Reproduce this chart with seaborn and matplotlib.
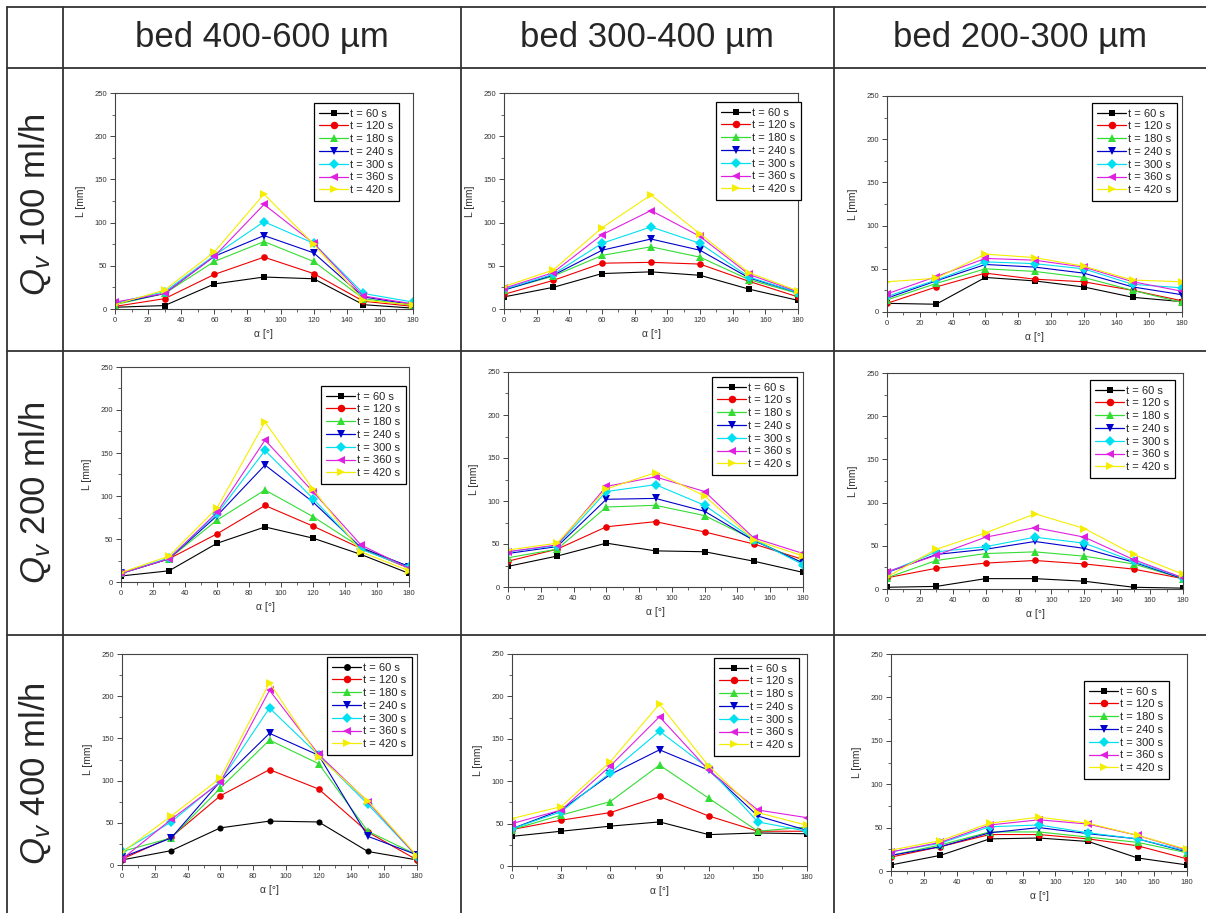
import numpy as np
import pandas as pd
import matplotlib
matplotlib.use('Agg')
import matplotlib.pyplot as plt
import seaborn as sns
from matplotlib.lines import Line2D
from matplotlib.ticker import MultipleLocator

sns.set_style('white')
plt.rcParams['font.family'] = ['Liberation Sans', 'DejaVu Sans']
plt.rcParams['mathtext.fontset'] = 'custom'
plt.rcParams['mathtext.rm'] = 'Liberation Sans'
plt.rcParams['mathtext.it'] = 'Liberation Sans:italic'

W, H = 1206, 913

angles = [0, 30, 60, 90, 120, 150, 180]
times = [60, 120, 180, 240, 300, 360, 420]
beds = ['bed 400-600 µm', 'bed 300-400 µm', 'bed 200-300 µm']
flows = ['100', '200', '400']

# L [mm], one row per time step (60 ... 420 s)
L_q100_b1 = [[2, 4, 29, 37, 35, 5, 1],
             [3, 12, 40, 60, 41, 9, 3],
             [5, 18, 55, 78, 55, 12, 4],
             [6, 18, 61, 85, 65, 14, 5],
             [7, 20, 62, 101, 76, 18, 8],
             [8, 18, 61, 121, 76, 15, 6],
             [5, 22, 66, 133, 75, 10, 5]]
L_q100_b2 = [[14, 25, 41, 43, 39, 23, 10],
             [17, 33, 53, 54, 52, 32, 14],
             [22, 38, 62, 72, 60, 34, 18],
             [22, 39, 68, 81, 68, 36, 19],
             [23, 40, 76, 95, 76, 37, 19],
             [24, 42, 86, 114, 84, 40, 20],
             [26, 45, 94, 132, 87, 42, 21]]
L_q100_b3 = [[10, 9, 40, 36, 29, 17, 12],
             [10, 29, 45, 38, 35, 25, 13],
             [14, 33, 50, 47, 40, 25, 11],
             [16, 36, 55, 52, 45, 29, 20],
             [18, 37, 58, 56, 50, 32, 28],
             [21, 41, 62, 60, 52, 35, 24],
             [35, 39, 67, 63, 53, 37, 35]]
L_q200_b1 = [[7, 13, 45, 64, 51, 32, 10],
             [10, 27, 56, 89, 65, 39, 16],
             [10, 27, 72, 107, 76, 40, 18],
             [10, 27, 77, 136, 93, 40, 18],
             [10, 28, 79, 153, 97, 38, 17],
             [10, 27, 81, 165, 105, 43, 16],
             [11, 30, 86, 186, 108, 35, 13]]
L_q200_b2 = [[24, 36, 51, 42, 41, 30, 17],
             [30, 44, 70, 76, 64, 50, 32],
             [34, 44, 93, 95, 83, 55, 28],
             [39, 47, 102, 103, 88, 54, 28],
             [41, 48, 111, 119, 95, 55, 26],
             [41, 49, 117, 128, 111, 57, 39],
             [43, 51, 114, 133, 106, 55, 36]]
L_q200_b3 = [[2, 3, 12, 12, 9, 2, 1],
             [13, 24, 30, 33, 29, 23, 12],
             [13, 33, 41, 43, 38, 29, 12],
             [19, 40, 46, 55, 47, 31, 12],
             [19, 43, 49, 60, 53, 32, 13],
             [20, 39, 60, 71, 60, 34, 13],
             [14, 46, 65, 87, 70, 40, 17]]
L_q400_b1 = [[6, 17, 44, 52, 51, 16, 6],
             [7, 33, 82, 113, 90, 39, 6],
             [16, 32, 91, 148, 120, 40, 12],
             [9, 32, 99, 156, 130, 34, 12],
             [16, 51, 99, 186, 130, 72, 10],
             [7, 54, 98, 207, 131, 75, 10],
             [15, 58, 103, 216, 128, 76, 11]]
L_q400_b2 = [[35, 41, 47, 52, 37, 39, 38],
             [43, 54, 63, 82, 59, 41, 41],
             [43, 60, 76, 119, 80, 41, 46],
             [44, 66, 108, 137, 113, 59, 42],
             [44, 64, 110, 159, 115, 52, 41],
             [50, 66, 118, 176, 113, 66, 57],
             [56, 70, 123, 191, 118, 63, 48]]
L_q400_b3 = [[7, 18, 37, 38, 34, 15, 7],
             [16, 28, 42, 42, 37, 29, 14],
             [18, 30, 45, 45, 39, 33, 21],
             [18, 28, 44, 50, 43, 37, 22],
             [22, 32, 51, 53, 44, 37, 23],
             [22, 33, 53, 59, 54, 41, 24],
             [24, 35, 55, 62, 55, 41, 25]]

panels = [[L_q100_b1, L_q100_b2, L_q100_b3],
          [L_q200_b1, L_q200_b2, L_q200_b3],
          [L_q400_b1, L_q400_b2, L_q400_b3]]

colors = ['#000000', '#EE0000', '#33DD33', '#0000CC', '#00E0F0', '#E020E0', '#F5EE00']
markers = ['s', 'o', '^', 'v', 'D', '<', '>']
msizes = [4.4, 4.8, 5.8, 5.8, 4.6, 5.8, 5.8]
labels = ['t = %d s' % t for t in times]

# axes boxes in pixels: left, top, right, bottom
boxes = [[(115, 93, 413, 309), (504, 93, 798, 309), (887, 96, 1182, 312)],
         [(121, 367, 409, 582), (508, 372, 803, 587), (887, 373, 1183, 589)],
         [(122, 654, 417, 865), (512, 654, 807, 866), (891, 654, 1187, 871)]]
# legend top-right corners in pixels
leg_corner = [[(399, 103), (801, 102), (1177, 103)],
              [(406, 386), (797, 377), (1175, 380)],
              [(412, 657), (799, 658), (1169, 681)]]

fig = plt.figure(figsize=(W / 100, H / 100), dpi=100)
fig.patch.set_facecolor('white')


def hline(y, x0=7, x1=W):
    fig.add_artist(Line2D([x0 / W, x1 / W], [1 - y / H, 1 - y / H],
                          transform=fig.transFigure, color='#333333', lw=1.3))


def vline(x, y0=7, y1=H):
    fig.add_artist(Line2D([x / W, x / W], [1 - y0 / H, 1 - y1 / H],
                          transform=fig.transFigure, color='#333333', lw=1.3))


# table grid
for y in [7, 68, 351, 635]:
    hline(y)
for x in [7, 63, 461, 834]:
    vline(x)

col_centers = [262, 647, 1020]
row_centers = [205, 493, 774]
for c, bed in zip(col_centers, beds):
    fig.text(c / W, 1 - 38 / H, bed, ha='center', va='center', fontsize=25)
for r, q in zip(row_centers, flows):
    fig.text(35 / W, 1 - r / H, r'$Q_v$ ' + q + ' ml/h', ha='center', va='center',
             rotation=90, fontsize=25)

for i in range(3):
    for j in range(3):
        l, t, r, b = boxes[i][j]
        ax = fig.add_axes([l / W, 1 - b / H, (r - l) / W, (b - t) / H])
        mk = list(markers)
        if i == 2 and j == 0:
            mk[0] = 'o'
        handles = []
        for k, vals in enumerate(panels[i][j]):
            sns.lineplot(x=angles, y=vals, color=colors[k], marker=mk[k],
                         markersize=msizes[k], markeredgewidth=0, linewidth=0.8,
                         ax=ax)
            handles.append(Line2D([], [], color=colors[k], marker=mk[k],
                                  markersize=msizes[k] + 0.6, markeredgewidth=0,
                                  linewidth=0.9))
        ax.set_xlim(0, 180)
        ax.set_ylim(0, 250)
        if i == 2 and j == 1:
            ax.xaxis.set_major_locator(MultipleLocator(30))
            ax.xaxis.set_minor_locator(MultipleLocator(15))
        else:
            ax.xaxis.set_major_locator(MultipleLocator(20))
            ax.xaxis.set_minor_locator(MultipleLocator(10))
        ax.yaxis.set_major_locator(MultipleLocator(50))
        ax.yaxis.set_minor_locator(MultipleLocator(25))
        ax.tick_params(which='major', direction='out', length=3.5, width=0.6,
                       labelsize=5.5, labelcolor='#333333', pad=2,
                       bottom=True, left=True, top=False, right=False)
        ax.tick_params(which='minor', direction='out', length=2, width=0.5,
                       bottom=True, left=True, top=False, right=False)
        for s in ax.spines.values():
            s.set_color('#444444')
            s.set_linewidth(0.8)
        ax.set_xlabel('α [°]', fontsize=7.5, color='#333333', labelpad=4)
        ax.set_ylabel('L [mm]', fontsize=7.5, color='#333333', labelpad=6)
        cx, cy = leg_corner[i][j]
        leg = ax.legend(handles, labels, loc='upper right',
                        bbox_to_anchor=(cx / W, 1 - cy / H),
                        bbox_transform=fig.transFigure, borderaxespad=0,
                        fontsize=8, handlelength=2.6, handletextpad=0.2,
                        labelspacing=0.25, borderpad=0.5, fancybox=False,
                        framealpha=1, edgecolor='black')
        leg.get_frame().set_linewidth(0.9)

fig.savefig('out.png', dpi=100)
